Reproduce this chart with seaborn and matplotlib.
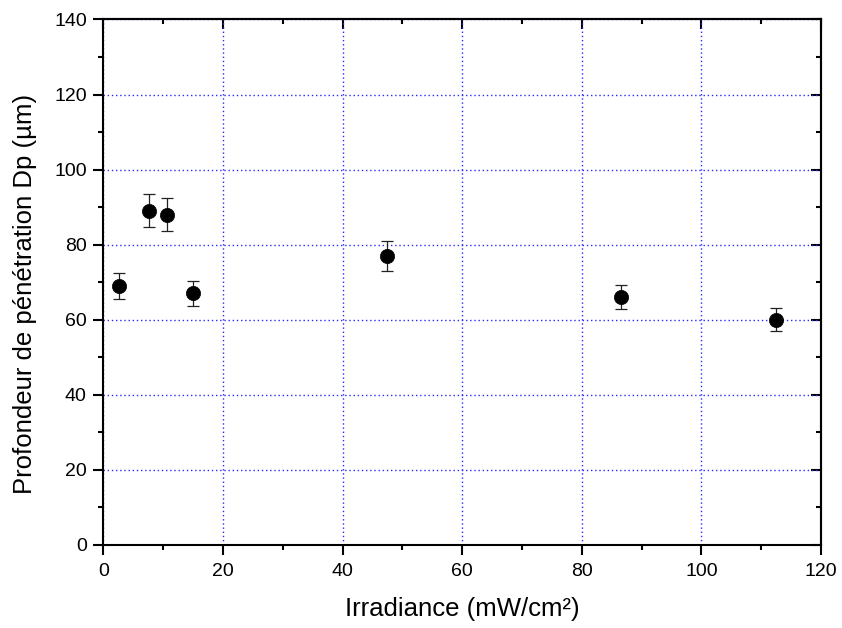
import matplotlib
matplotlib.use("Agg")
import matplotlib.pyplot as plt
from matplotlib.ticker import MultipleLocator
import seaborn as sns
import pandas as pd

irradiance = [2.6, 7.55, 10.7, 15.0, 47.4, 86.5, 112.4]
depth = [69.0, 89.0, 88.0, 67.0, 77.0, 66.0, 60.0]
error = [3.5, 4.4, 4.4, 3.3, 3.9, 3.2, 3.0]

x_label = "Irradiance (mW/cm²)"
y_label = "Profondeur de pénétration Dp (µm)"

df = pd.DataFrame({"x": irradiance, "y": depth, "err": error})

sns.set_style("ticks")
plt.rcParams["font.family"] = ["Liberation Sans", "DejaVu Sans"]
plt.rcParams["text.color"] = "black"
plt.rcParams["axes.labelcolor"] = "black"
plt.rcParams["xtick.color"] = "black"
plt.rcParams["ytick.color"] = "black"

fig = plt.figure(figsize=(8.42, 6.28), dpi=100)
ax = fig.add_axes([0.1229, 0.1322, 0.975 - 0.1229, 0.969 - 0.1322])

ax.errorbar(df["x"], df["y"], yerr=df["err"], fmt="none", ecolor="#222222",
            elinewidth=0.9, capsize=4.2, capthick=0.9, zorder=3)
sns.scatterplot(data=df, x="x", y="y", ax=ax, color="black", s=105,
                edgecolor="black", linewidth=0.5, zorder=4, legend=False)

ax.set_xlim(0, 120)
ax.set_ylim(0, 140)
ax.xaxis.set_major_locator(MultipleLocator(20))
ax.xaxis.set_minor_locator(MultipleLocator(10))
ax.yaxis.set_major_locator(MultipleLocator(20))
ax.yaxis.set_minor_locator(MultipleLocator(10))

ax.grid(True, which="major", color="#2a2aff", linestyle=(0, (1, 2)), linewidth=1.0)
ax.set_axisbelow(True)

for s in ax.spines.values():
    s.set_linewidth(1.5)
    s.set_visible(True)
    s.set_color("black")

ax.tick_params(which="major", direction="out", length=7, width=1.5, labelsize=14,
               colors="black", labelcolor="black")
ax.tick_params(axis="x", which="major", pad=6)
ax.tick_params(axis="y", which="major", pad=5)
ax.tick_params(which="minor", direction="out", length=3.5, width=1.5)

top = ax.secondary_xaxis("top")
top.xaxis.set_major_locator(MultipleLocator(20))
top.xaxis.set_minor_locator(MultipleLocator(10))
top.tick_params(which="major", direction="in", length=7, width=1.5, labeltop=False)
top.tick_params(which="minor", direction="in", length=3.5, width=1.5)
top.spines["top"].set_linewidth(1.5)

right = ax.secondary_yaxis("right")
right.yaxis.set_major_locator(MultipleLocator(20))
right.yaxis.set_minor_locator(MultipleLocator(10))
right.tick_params(which="major", direction="in", length=7, width=1.5, labelright=False)
right.tick_params(which="minor", direction="in", length=3.5, width=1.5)
right.spines["right"].set_linewidth(1.5)

ax.set_xlabel(x_label, fontsize=18.5, labelpad=12, color="black")
ax.set_ylabel(y_label, fontsize=18.5, labelpad=12, color="black")
ax.yaxis.label.set_y(0.477)

fig.savefig("out.png", dpi=100)
